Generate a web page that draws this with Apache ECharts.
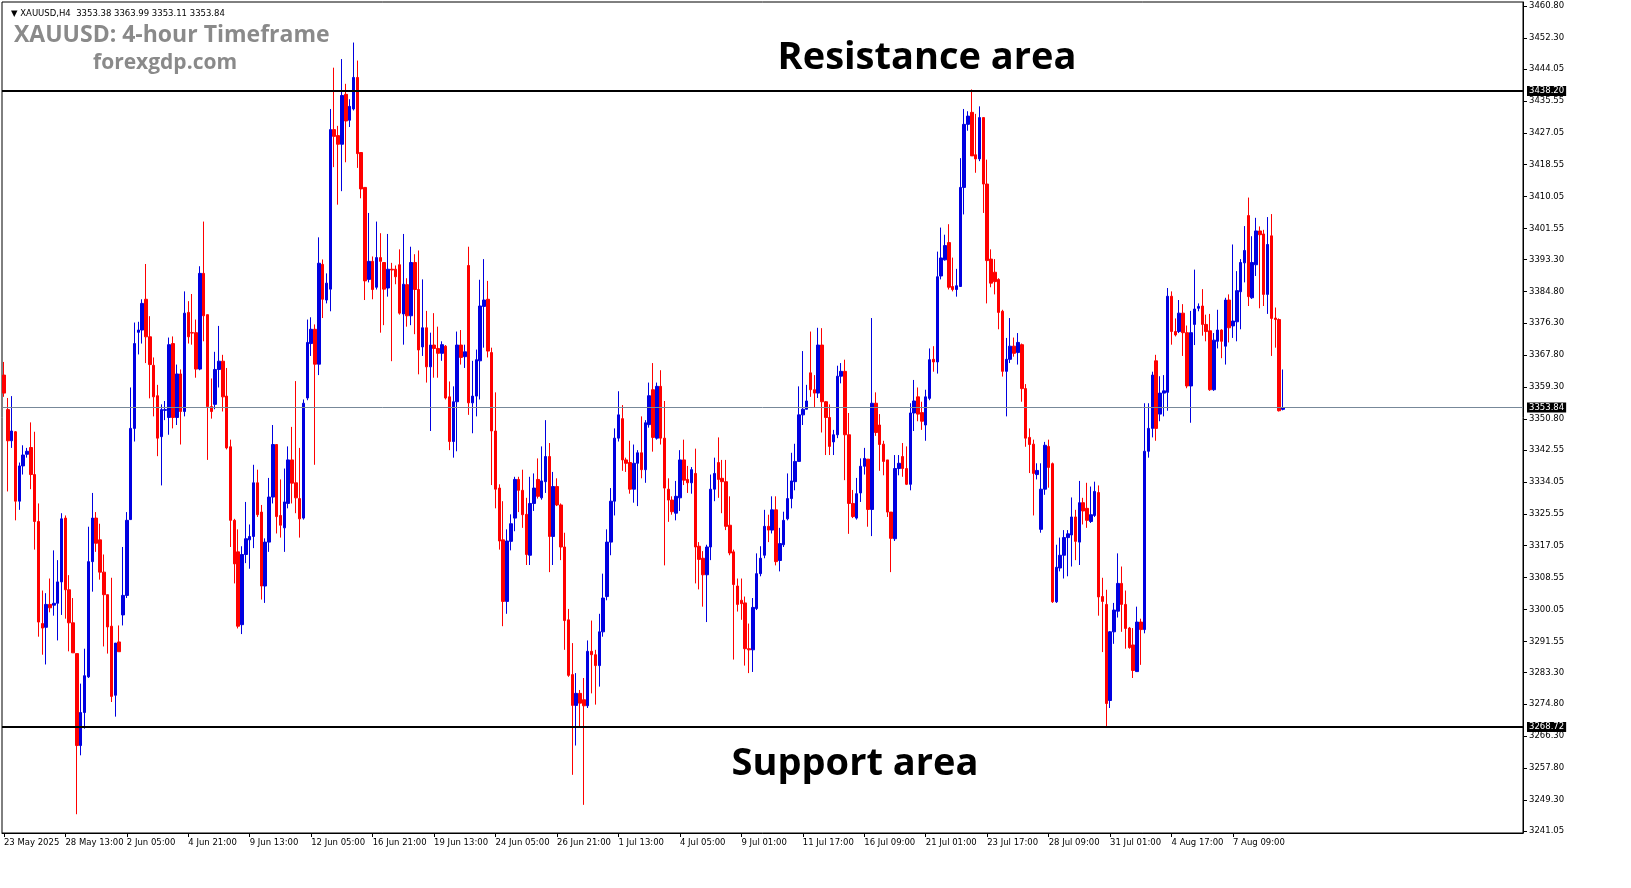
<!DOCTYPE html>
<html><head><meta charset="utf-8">
<script src="https://cdn.jsdelivr.net/npm/echarts@6/dist/echarts.min.js"></script>
<style>html,body{margin:0;padding:0;background:#fff}#c{width:1631px;height:888px}</style>
</head><body><div id="c"></div>
<script>
// [open, close, low, high]
const ohlc = [
[3362.5,3357.7,3356.7,3366.0],[3353.3,3345.0,3331.5,3356.4],[3345.0,3347.6,3343.1,3356.9],[3347.4,3328.9,3323.8,3347.6],
[3328.9,3338.3,3326.6,3339.2],[3338.3,3341.2,3336.0,3343.8],[3341.4,3342.2,3340.5,3343.1],[3343.2,3336.0,3332.1,3349.9],
[3336.0,3323.5,3316.0,3347.4],[3323.5,3296.7,3292.8,3328.3],[3296.3,3295.1,3288.0,3305.1],[3295.3,3301.4,3285.4,3304.4],
[3301.4,3300.5,3299.3,3308.3],[3301.2,3301.7,3298.4,3315.8],[3301.7,3307.4,3291.8,3313.2],[3307.4,3324.2,3298.6,3325.7],
[3324.4,3305.3,3297.6,3325.1],[3305.3,3296.5,3288.9,3309.2],[3296.5,3288.5,3288.5,3303.1],[3288.3,3263.8,3245.5,3288.3],
[3263.8,3272.6,3261.2,3280.3],[3272.6,3282.4,3268.3,3289.6],[3282.1,3312.8,3281.8,3322.1],[3312.8,3324.4,3304.8,3331.1],
[3324.4,3317.7,3315.4,3326.0],[3318.6,3310.0,3308.0,3322.9],[3310.0,3304.0,3290.2,3314.7],[3304.0,3295.4,3288.3,3304.0],
[3295.6,3276.9,3275.4,3308.5],[3277.2,3291.1,3271.5,3291.1],[3291.4,3288.8,3288.8,3295.8],[3298.6,3303.8,3295.8,3316.7],
[3303.8,3323.8,3303.1,3326.0],[3324.0,3348.3,3324.0,3359.2],[3348.3,3370.9,3344.8,3376.5],[3373.9,3374.5,3368.0,3376.7],
[3374.5,3381.6,3370.9,3382.7],[3382.7,3372.7,3365.7,3392.1],[3372.7,3365.3,3356.3,3378.2],[3365.1,3356.7,3351.5,3367.2],
[3357.0,3345.7,3340.9,3359.9],[3346.1,3353.3,3333.1,3354.7],[3353.1,3353.3,3350.5,3355.6],[3351.2,3370.6,3346.6,3372.5],
[3370.9,3351.2,3348.3,3372.8],[3351.2,3362.8,3349.2,3365.3],[3362.8,3352.8,3344.0,3364.0],[3352.8,3379.0,3351.5,3384.8],
[3379.2,3372.7,3370.9,3382.2],[3373.8,3373.7,3370.6,3384.1],[3373.8,3364.1,3361.8,3377.3],[3364.1,3389.6,3363.8,3391.5],
[3389.6,3378.3,3371.5,3403.4],[3378.6,3354.1,3339.9,3378.6],[3354.1,3352.8,3350.9,3361.6],[3354.7,3364.0,3353.4,3368.7],
[3364.0,3366.2,3359.2,3375.6],[3366.2,3356.7,3352.8,3367.9],[3356.9,3343.1,3342.7,3364.4],[3343.4,3323.8,3316.7,3345.3],
[3323.8,3312.2,3307.0,3324.2],[3315.4,3295.6,3295.0,3321.4],[3296.0,3314.7,3293.5,3316.9],[3314.7,3318.9,3312.4,3328.7],
[3318.6,3319.5,3310.9,3322.7],[3319.5,3333.8,3316.4,3338.6],[3333.8,3325.3,3324.7,3337.3],[3326.0,3306.3,3302.7,3327.9],
[3306.3,3318.0,3301.8,3319.0],[3318.0,3330.0,3315.4,3335.1],[3330.0,3344.0,3328.3,3349.2],[3344.0,3324.8,3320.3,3344.0],
[3325.1,3322.5,3319.2,3334.7],[3321.8,3328.7,3315.4,3337.6],[3328.3,3339.9,3327.0,3343.5],[3339.9,3333.7,3328.3,3348.7],
[3333.8,3329.8,3325.7,3360.9],[3329.6,3324.2,3319.2,3343.1],[3324.4,3355.0,3324.0,3356.0],[3356.4,3371.2,3355.8,3377.3],
[3370.9,3374.7,3367.6,3377.9],[3374.7,3365.4,3338.6,3376.0],[3365.4,3392.3,3362.5,3399.2],[3392.0,3382.7,3377.7,3393.3],
[3382.5,3387.0,3381.6,3389.6],[3385.4,3427.9,3379.5,3433.4],[3427.9,3426.1,3417.9,3444.4],[3426.3,3424.0,3407.9,3428.9],
[3424.0,3437.0,3411.5,3446.7],[3437.3,3430.2,3419.2,3440.1],[3430.4,3434.1,3428.6,3436.0],[3433.4,3441.8,3433.0,3451.1],
[3441.8,3421.5,3417.7,3446.3],[3421.8,3412.1,3409.6,3421.8],[3412.5,3387.6,3382.5,3412.5],[3388.0,3392.8,3387.2,3405.7],
[3392.8,3385.3,3382.7,3394.1],[3385.9,3393.8,3385.3,3403.4],[3393.8,3392.8,3373.8,3400.3],[3392.5,3385.4,3375.8,3392.5],
[3385.7,3390.7,3383.4,3400.1],[3390.7,3390.5,3366.2,3392.4],[3390.7,3388.7,3386.7,3391.7],[3391.9,3379.0,3378.6,3396.0],
[3378.8,3386.7,3370.6,3400.1],[3386.6,3378.3,3375.4,3388.3],[3378.3,3392.5,3375.8,3396.7],[3392.5,3385.3,3373.4,3394.7],
[3385.3,3369.2,3362.7,3395.7],[3370.0,3375.1,3367.6,3388.0],[3375.1,3364.7,3360.5,3379.6],[3364.7,3370.5,3347.6,3373.8],
[3370.5,3369.6,3361.8,3379.0],[3369.6,3368.3,3361.8,3375.4],[3368.3,3370.6,3366.3,3371.5],[3370.2,3356.4,3356.0,3370.5],
[3356.7,3344.8,3342.5,3360.8],[3344.8,3355.4,3340.5,3359.5],[3355.4,3370.5,3342.2,3374.1],[3370.5,3367.2,3365.3,3374.5],
[3367.4,3368.7,3364.4,3370.6],[3391.7,3355.1,3351.9,3396.7],[3355.1,3356.9,3347.0,3366.3],[3356.9,3366.6,3351.5,3369.3],
[3366.3,3380.9,3356.0,3387.9],[3380.8,3382.5,3369.8,3393.4],[3382.7,3368.9,3367.2,3387.6],[3368.5,3347.6,3333.2,3369.8],
[3347.6,3332.1,3327.0,3357.9],[3332.4,3318.3,3316.0,3333.4],[3318.6,3302.2,3295.6,3328.9],[3302.2,3318.3,3298.9,3321.4],
[3318.2,3322.9,3315.8,3325.4],[3324.4,3334.7,3320.9,3335.4],[3334.7,3331.8,3326.0,3335.4],[3331.8,3325.3,3321.8,3337.3],
[3325.4,3314.7,3311.9,3329.8],[3314.5,3328.3,3311.9,3335.4],[3328.3,3332.4,3326.3,3336.3],[3334.7,3330.2,3329.6,3340.3],
[3329.8,3334.3,3329.3,3343.5],[3334.1,3340.8,3331.1,3350.5],[3340.8,3319.5,3310.0,3344.4],[3319.5,3332.8,3311.9,3336.7],
[3332.8,3327.9,3327.6,3335.0],[3327.9,3316.7,3313.2,3328.3],[3316.7,3297.1,3289.3,3320.5],[3297.3,3282.5,3282.1,3300.2],
[3282.7,3274.5,3256.0,3291.1],[3274.5,3277.7,3263.8,3283.1],[3277.7,3275.1,3268.9,3278.6],[3276.0,3274.4,3248.0,3281.8],
[3274.4,3288.9,3273.8,3291.8],[3288.9,3288.0,3277.7,3297.1],[3288.0,3285.1,3274.7,3289.3],[3285.1,3294.1,3279.5,3298.9],
[3294.1,3303.1,3292.8,3309.6],[3303.5,3318.0,3302.5,3321.4],[3318.0,3328.9,3314.5,3332.4],[3328.9,3345.7,3325.1,3348.3],
[3345.7,3351.9,3344.8,3358.2],[3350.9,3339.9,3337.0,3354.5],[3339.9,3339.0,3336.7,3340.5],[3339.2,3332.1,3330.9,3345.0],
[3332.1,3339.0,3328.5,3344.0],[3339.0,3341.8,3327.6,3342.5],[3341.8,3337.3,3335.0,3351.5],[3337.3,3349.8,3333.8,3350.5],
[3349.3,3357.0,3348.5,3360.5],[3358.6,3345.9,3342.1,3365.7],[3345.7,3359.5,3345.3,3360.5],[3359.5,3345.7,3344.0,3363.8],
[3345.7,3332.4,3311.8,3355.6],[3332.1,3329.2,3323.4,3335.0],[3329.2,3326.1,3325.3,3330.2],[3325.7,3330.2,3323.8,3334.3],
[3329.8,3339.9,3326.3,3342.5],[3339.9,3334.5,3333.2,3345.3],[3334.7,3333.8,3331.1,3338.3],[3333.8,3337.3,3330.9,3338.0],
[3336.3,3316.7,3307.0,3342.9],[3316.9,3313.4,3305.4,3318.0],[3313.7,3309.3,3300.8,3315.6],[3309.3,3316.7,3296.7,3317.3],
[3316.7,3332.1,3313.2,3336.0],[3332.1,3336.3,3328.9,3340.5],[3339.2,3334.7,3329.8,3345.9],[3335.0,3334.1,3325.7,3339.9],
[3334.1,3322.2,3321.2,3339.9],[3322.5,3315.1,3314.5,3330.2],[3315.4,3306.7,3286.7,3316.0],[3306.3,3301.4,3299.5,3308.3],
[3302.5,3301.6,3297.3,3308.3],[3301.8,3289.6,3285.1,3303.5],[3289.6,3289.3,3283.1,3296.3],[3289.3,3300.6,3283.4,3303.1],
[3300.3,3309.6,3299.9,3315.0],[3309.6,3313.7,3308.9,3316.9],[3314.5,3322.2,3313.7,3326.6],[3322.2,3321.2,3318.0,3325.3],
[3321.2,3326.6,3320.3,3330.2],[3326.6,3312.8,3311.8,3330.2],[3313.1,3317.6,3310.2,3321.8],[3317.3,3323.8,3316.7,3326.1],
[3324.2,3329.6,3323.8,3336.3],[3329.6,3334.3,3327.0,3341.8],[3334.1,3339.5,3331.8,3344.2],[3339.5,3351.9,3339.5,3359.5],
[3351.9,3353.4,3349.2,3368.9],[3353.4,3355.6,3353.4,3359.9],[3363.1,3358.6,3356.7,3374.1],[3358.6,3357.7,3353.8,3362.5],
[3357.7,3370.5,3356.4,3375.1],[3370.5,3355.4,3347.2,3375.0],[3355.4,3351.2,3341.2,3355.6],[3351.2,3343.5,3341.2,3354.7],
[3344.7,3346.6,3341.2,3347.9],[3346.6,3362.2,3345.7,3365.0],[3362.2,3363.5,3360.3,3365.7],[3363.5,3346.6,3334.5,3366.6],
[3346.6,3328.3,3320.2,3352.4],[3328.3,3324.8,3324.4,3331.9],[3324.4,3330.9,3324.0,3335.1],[3331.1,3338.2,3328.7,3340.3],
[3338.2,3340.3,3336.0,3343.1],[3340.1,3326.7,3322.1,3340.1],[3326.7,3355.0,3319.6,3377.7],[3355.0,3347.2,3346.3,3357.9],
[3349.2,3344.0,3337.0,3352.1],[3344.1,3339.5,3335.8,3345.0],[3339.9,3326.0,3324.7,3339.9],[3326.0,3319.0,3310.0,3326.0],
[3318.9,3337.6,3318.3,3341.2],[3337.6,3339.0,3335.8,3341.2],[3340.8,3337.6,3335.4,3344.4],[3337.6,3333.4,3333.2,3343.5],
[3333.4,3352.4,3331.8,3355.0],[3352.4,3355.6,3347.6,3361.2],[3356.7,3352.1,3350.2,3359.2],[3352.5,3350.2,3347.9,3355.4],
[3349.2,3356.7,3345.0,3358.6],[3356.3,3366.6,3355.8,3369.6],[3366.7,3366.0,3363.4,3370.2],[3366.0,3388.7,3362.9,3395.4],
[3388.9,3393.7,3388.0,3401.8],[3393.2,3397.0,3393.0,3399.9],[3397.8,3385.9,3385.3,3402.7],[3386.1,3385.3,3384.8,3393.8],
[3385.3,3386.3,3383.4,3390.8],[3386.1,3412.5,3386.1,3420.3],[3412.5,3429.3,3405.3,3433.4],[3429.3,3431.5,3427.6,3432.8],
[3432.5,3420.9,3420.9,3438.6],[3421.2,3420.1,3416.4,3432.1],[3420.1,3431.1,3419.5,3434.1],[3431.1,3413.4,3405.7,3431.2],
[3413.4,3393.0,3381.6,3419.9],[3393.4,3387.0,3385.9,3396.0],[3389.9,3387.4,3384.0,3393.4],[3388.0,3379.2,3374.7,3388.3],
[3379.5,3363.5,3362.1,3379.9],[3363.5,3366.7,3351.5,3372.4],[3366.7,3370.2,3365.7,3377.7],[3370.2,3368.3,3367.4,3372.5],
[3368.5,3371.2,3365.3,3373.7],[3370.6,3358.9,3355.4,3370.9],[3358.9,3345.7,3343.4,3360.1],[3345.9,3344.0,3336.4,3348.3],
[3344.1,3336.3,3325.1,3345.3],[3336.0,3337.1,3334.7,3339.0],[3321.4,3332.1,3320.5,3339.0],[3332.1,3343.8,3330.6,3344.7],
[3343.5,3337.9,3332.5,3345.3],[3338.9,3302.1,3301.8,3339.2],[3302.1,3311.3,3301.8,3317.3],[3311.1,3314.5,3310.2,3319.2],
[3314.5,3319.2,3308.3,3321.2],[3319.2,3320.2,3308.9,3321.2],[3319.9,3324.7,3311.5,3329.9],[3324.7,3318.2,3313.2,3326.6],
[3318.0,3328.5,3311.9,3334.3],[3328.5,3326.3,3322.7,3329.8],[3327.0,3323.8,3321.8,3333.8],[3323.5,3325.3,3323.1,3332.8],
[3325.1,3331.5,3324.7,3334.1],[3331.2,3303.4,3298.4,3333.1],[3303.5,3302.2,3288.7,3308.5],[3301.4,3275.0,3268.7,3305.3],
[3275.8,3294.1,3273.8,3294.3],[3294.1,3299.9,3290.9,3301.8],[3299.6,3307.0,3297.9,3315.0],[3307.0,3301.4,3294.1,3311.5],
[3301.4,3295.0,3289.6,3305.1],[3295.1,3289.9,3289.6,3295.4],[3290.6,3283.8,3281.8,3295.1],[3283.5,3296.7,3283.4,3300.8],
[3296.7,3294.7,3285.3,3297.6],[3294.7,3342.2,3293.7,3355.0],[3342.2,3348.3,3340.5,3355.0],[3348.3,3362.5,3345.9,3363.4],
[3366.3,3348.3,3345.0,3367.9],[3352.1,3357.7,3350.2,3362.2],[3357.7,3358.3,3351.5,3362.5],[3357.9,3383.5,3353.0,3385.7],
[3383.5,3374.1,3370.6,3384.8],[3374.1,3373.2,3372.8,3377.6],[3374.1,3379.0,3373.7,3382.5],[3379.0,3373.8,3367.6,3381.4],
[3373.8,3359.6,3359.0,3375.7],[3359.6,3373.8,3349.8,3379.6],[3376.0,3380.1,3370.5,3390.6],[3380.3,3380.8,3379.5,3381.6],
[3380.9,3376.0,3373.0,3385.4],[3376.0,3374.1,3371.5,3378.6],[3374.3,3358.6,3358.3,3378.8],[3358.6,3371.8,3358.3,3373.7],
[3371.5,3374.5,3369.6,3379.9],[3374.5,3371.5,3367.0,3374.7],[3370.2,3382.5,3365.3,3383.1],[3382.5,3375.1,3371.2,3384.0],
[3375.6,3376.9,3372.4,3397.3],[3376.7,3385.0,3371.5,3390.2],[3384.7,3392.5,3374.7,3393.4],[3392.4,3395.7,3387.2,3402.2],
[3405.0,3383.4,3380.9,3409.8],[3383.1,3392.5,3382.8,3399.5],[3391.9,3400.9,3388.9,3404.4],[3400.9,3399.9,3380.3,3402.1],
[3400.1,3384.0,3380.9,3401.2],[3384.0,3397.3,3378.8,3404.6],[3399.6,3377.6,3367.6,3405.4],[3377.7,3377.3,3369.8,3380.5],
[3377.3,3353.0,3352.8,3377.6],[3353.38,3353.84,3353.11,3363.99]
];
const xLabels = ['23 May 2025','28 May 13:00','2 Jun 05:00','4 Jun 21:00','9 Jun 13:00','12 Jun 05:00','16 Jun 21:00',
'19 Jun 13:00','24 Jun 05:00','26 Jun 21:00','1 Jul 13:00','4 Jul 05:00','9 Jul 01:00','11 Jul 17:00','16 Jul 09:00',
'21 Jul 01:00','23 Jul 17:00','28 Jul 09:00','31 Jul 01:00','4 Aug 17:00','7 Aug 09:00'];
const yTicks = [3460.80,3452.30,3444.05,3435.55,3427.05,3418.55,3410.05,3401.55,3393.30,3384.80,3376.30,3367.80,3359.30,
3350.80,3342.55,3334.05,3325.55,3317.05,3308.55,3300.05,3291.55,3283.30,3274.80,3266.30,3257.80,3249.30,3241.05];
const resistance = 3438.20, support = 3268.72, lastPrice = 3353.84;
const totalSlots = 396, labelStep = 16;

const cats = [];
for (let i = 0; i < totalSlots; i++) cats.push(String(i));

const chart = echarts.init(document.getElementById('c'));
const lineLabel = (bg) => ({show:true, position:'end', distance:4, formatter:(p)=>p.value.toFixed(2),
  color:'#fff', backgroundColor:bg, fontSize:8.5, fontFamily:'DejaVu Sans', padding:[1,2,0,2]});
chart.setOption({
  animation:false,
  backgroundColor:'#fff',
  title:[
    {text:'\u25BC XAUUSD,H4  3353.38 3363.99 3353.11 3353.84', left:6, top:4, textStyle:{fontSize:8.5, fontWeight:'normal', color:'#000', fontFamily:'DejaVu Sans'}},
    {text:'XAUUSD: 4-hour Timeframe', left:9, top:19, textStyle:{fontSize:23, fontWeight:'bold', color:'#8a8a8a', fontFamily:'Open Sans'}},
    {text:'forexgdp.com', left:88, top:48, textStyle:{fontSize:21, fontWeight:'bold', color:'#8a8a8a', fontFamily:'Open Sans'}},
    {text:'Resistance area', left:922, top:34, textAlign:'center', textStyle:{fontSize:38, fontWeight:'bold', color:'#000', fontFamily:'Open Sans'}},
    {text:'Support area', left:850, top:740, textAlign:'center', textStyle:{fontSize:38, fontWeight:'bold', color:'#000', fontFamily:'Open Sans'}}
  ],
  grid:{left:2, right:108, top:2, bottom:55, show:true, borderColor:'#000', borderWidth:1},
  xAxis:{type:'category', data:cats, boundaryGap:true,
    axisLine:{lineStyle:{color:'#000'}},
    axisTick:{show:true, interval:(i)=>i%labelStep===0 && i/labelStep<xLabels.length, length:4, lineStyle:{color:'#000'}, alignWithLabel:true},
    axisLabel:{interval:(i)=>i%labelStep===0 && i/labelStep<xLabels.length, formatter:(v,i)=>xLabels[i/labelStep]||'',
      align:'left', fontSize:8.5, color:'#000', fontFamily:'DejaVu Sans', margin:5},
    splitLine:{show:false}},
  yAxis:{type:'value', position:'right', min:3240.5, max:3461.9,
    axisLine:{show:true, lineStyle:{color:'#000'}},
    axisTick:{show:true, customValues:yTicks, length:4, lineStyle:{color:'#000'}},
    axisLabel:{customValues:yTicks, formatter:(v)=>v.toFixed(2), fontSize:8.5, color:'#000', fontFamily:'DejaVu Sans', margin:6},
    splitLine:{show:false}},
  series:[{
    type:'candlestick', data:ohlc, barWidth:3,
    itemStyle:{color:'#0000e0', color0:'#ff0000', borderColor:'#0000e0', borderColor0:'#ff0000', borderWidth:1},
    markLine:{silent:true, symbol:'none', animation:false,
      data:[
        {yAxis:resistance, lineStyle:{color:'#000', width:2, type:'solid'}, label:lineLabel('#000')},
        {yAxis:support, lineStyle:{color:'#000', width:2, type:'solid'}, label:lineLabel('#000')},
        {yAxis:lastPrice, lineStyle:{color:'#778899', width:1, type:'solid'}, label:lineLabel('#000')}
      ]}
  }]
});
</script></body></html>
